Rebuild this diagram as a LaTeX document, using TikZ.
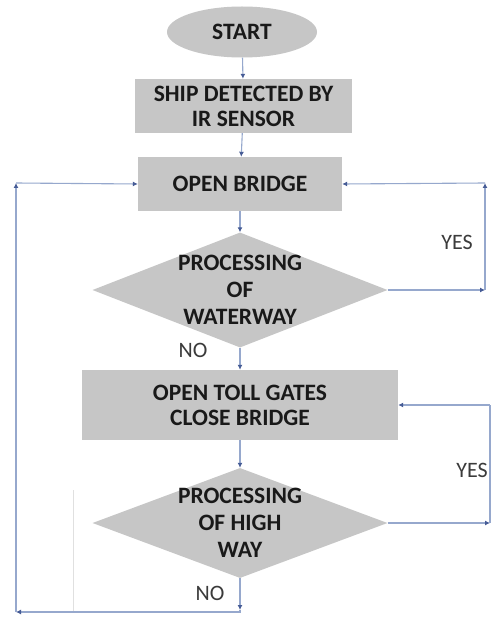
\documentclass[tikz,border=0pt]{standalone}
\usepackage{fontspec}
\setmainfont{Carlito}
\usetikzlibrary{shapes.geometric,arrows.meta}
\definecolor{linec}{RGB}{150,168,205}
\definecolor{tipc}{RGB}{70,92,150}
\definecolor{boxc}{RGB}{198,198,198}
\definecolor{txtc}{RGB}{25,25,25}
\begin{document}
\begin{tikzpicture}[x=1pt,y=-1pt,
  boxtxt/.style={font=\bfseries\fontsize{23.5}{25}\selectfont, text=txtc, align=center},
  procbox/.style={boxtxt, rectangle, fill=boxc, inner sep=0pt},
  decbox/.style={diamond, fill=boxc, inner sep=0pt, minimum width=295pt},
  dectxt/.style={font=\bfseries\fontsize{23.5}{27}\selectfont, text=txtc, align=center},
  lbl/.style={font=\fontsize{22}{24}\selectfont, text=txtc!85},
  conn/.style={draw=linec, line width=1.1pt},
  arr/.style={conn, -{Latex[length=5pt,width=5pt,color=tipc]}},
  faint/.style={draw=black!12, line width=0.8pt}]
\useasboundingbox (0,0) rectangle (492,620);
\fill[white] (0,0) rectangle (492,620);

\node[ellipse, fill=boxc, minimum width=150pt, minimum height=51pt, inner sep=0pt, boxtxt] (start) at (242,32) {START};
\node[procbox, minimum width=217pt, minimum height=54pt] (ship) at (243.5,106) {SHIP DETECTED BY\\IR SENSOR};
\node[procbox, minimum width=204pt, minimum height=54pt] (open) at (240,184) {OPEN BRIDGE};
\node[decbox, minimum height=115pt] (d1) at (240,290) {};
\node[dectxt] (t1) at (240,290) {PROCESSING\\OF\\WATERWAY};
\node[procbox, minimum width=316pt, minimum height=70pt] (toll) at (240,405) {OPEN TOLL GATES\\CLOSE BRIDGE};
\node[decbox, minimum height=110pt] (d2) at (240,523) {};
\node[dectxt] (t2) at (240,523) {PROCESSING\\OF HIGH\\WAY};

\coordinate (c1) at (485,290);
\coordinate (c2) at (485,183);
\coordinate (c3) at (490,523);
\coordinate (c4) at (490,405);
\coordinate (c5) at (240,610);
\coordinate (c6) at (16,612);
\coordinate (c7) at (16,183);
\coordinate (f1) at (73,490);
\coordinate (f2) at (73,611);

\draw[faint] (f1) -- (f2);

\draw[arr] (start) -- (ship);
\draw[arr] (ship) -- (open);
\draw[arr] (open) -- (d1);
\draw[arr] (d1.east) -- (c1);
\draw[arr] (c1) -- (c2);
\draw[arr] (c2) -- (open.east);
\draw[arr] (d1.south) -- (toll.north);
\draw[arr] (toll) -- (d2);
\draw[arr] (d2.east) -- (c3);
\draw[conn] (c3) -- (c4);
\draw[arr] (c4) -- (toll.east);
\draw[arr] (d2.south) -- (c5);
\draw[arr] (c5) -- (c6 -| c5) -- (c6);
\draw[arr] (c6) -- (c7);
\draw[arr] (c7) -- (open.west);

\node[lbl] (yes1) at (457,242) {YES};
\node[lbl] (no1) at (193,350) {NO};
\node[lbl] (yes2) at (472,470) {YES};
\node[lbl] (no2) at (210,593) {NO};
\end{tikzpicture}
\end{document}
